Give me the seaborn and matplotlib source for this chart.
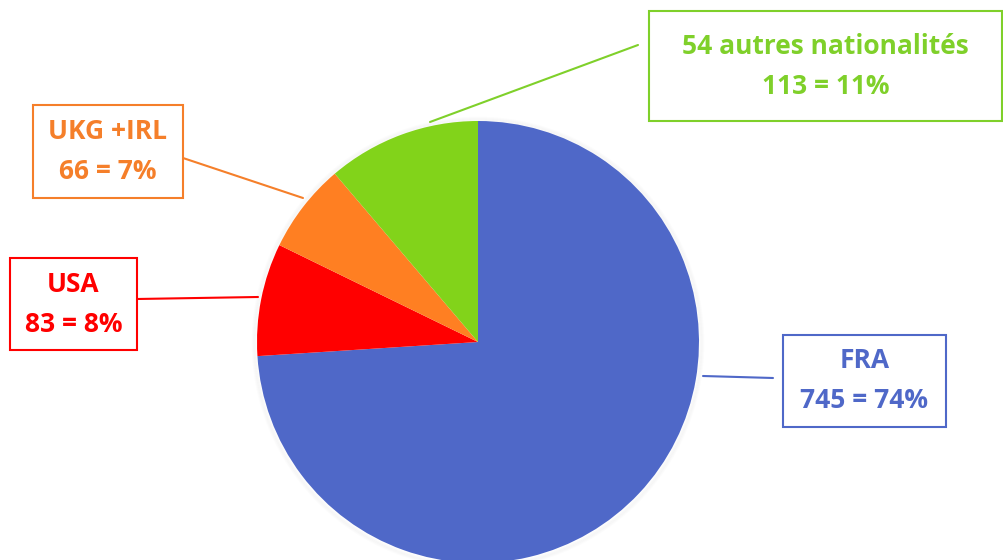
import matplotlib
matplotlib.use("Agg")
import matplotlib.pyplot as plt
from matplotlib.patches import Rectangle, Circle
import seaborn as sns

sns.set_theme(style="white")
plt.rcParams['font.family'] = ['Open Sans', 'DejaVu Sans']

# data
categories = ["FRA", "USA", "UKG +IRL", "54 autres nationalités"]
counts = [745, 83, 66, 113]
pcts = [74, 8, 7, 11]
wedge_colors = ["#4F68C8", "#FF0000", "#FF7F22", "#82D31A"]
text_colors = ["#4F68C8", "#FF0000", "#F57F2A", "#7FD02A"]

W, H = 1004, 560
fig = plt.figure(figsize=(W / 100, H / 100), dpi=100)
ax = fig.add_axes([0, 0, 1, 1])

cx0, cy0, r = 478, H - 342, 221

# soft shadow round the pie
for k in range(4):
    ax.add_patch(Circle((cx0, cy0 - 1), r + 1 + k, facecolor="none",
                        edgecolor="black", alpha=0.012, linewidth=2, zorder=0))

ax.pie(counts, colors=wedge_colors, startangle=90, counterclock=False,
       center=(cx0, cy0), radius=r, frame=True,
       wedgeprops=dict(linewidth=0))
ax.set_xlim(0, W)
ax.set_ylim(0, H)
ax.set_aspect("equal")
ax.axis("off")

# label boxes: (x0, y0_top, x1, y1_top) in image pixels
boxes = [(783, 335, 946, 427), (10, 258, 137, 350),
         (33, 105, 183, 198), (649, 11, 1002, 121)]
# leader lines in image pixels
leaders = [((703, 376), (773, 378)), ((137, 299), (258, 297)),
           ((183, 158), (303, 198)), ((430, 122), (638, 45))]

for i, cat in enumerate(categories):
    x0, t0, x1, t1 = boxes[i]
    c = text_colors[i]
    ax.add_patch(Rectangle((x0, H - t1), x1 - x0, t1 - t0, fill=True,
                           facecolor="white", edgecolor=c, linewidth=1.5, zorder=3))
    cx = (x0 + x1) / 2
    cy = H - (t0 + t1) / 2
    ax.text(cx, cy + 20, cat, color=c, ha="center", va="center",
            fontsize=19, fontweight="bold", zorder=4)
    ax.text(cx, cy - 20, f"{counts[i]} = {pcts[i]}%", color=c, ha="center",
            va="center", fontsize=19, fontweight="bold", zorder=4)
    (a, b), (d, e) = leaders[i]
    ax.plot([a, d], [H - b, H - e], color=c, linewidth=1.5, zorder=2)

fig.savefig("out.png", dpi=100)
